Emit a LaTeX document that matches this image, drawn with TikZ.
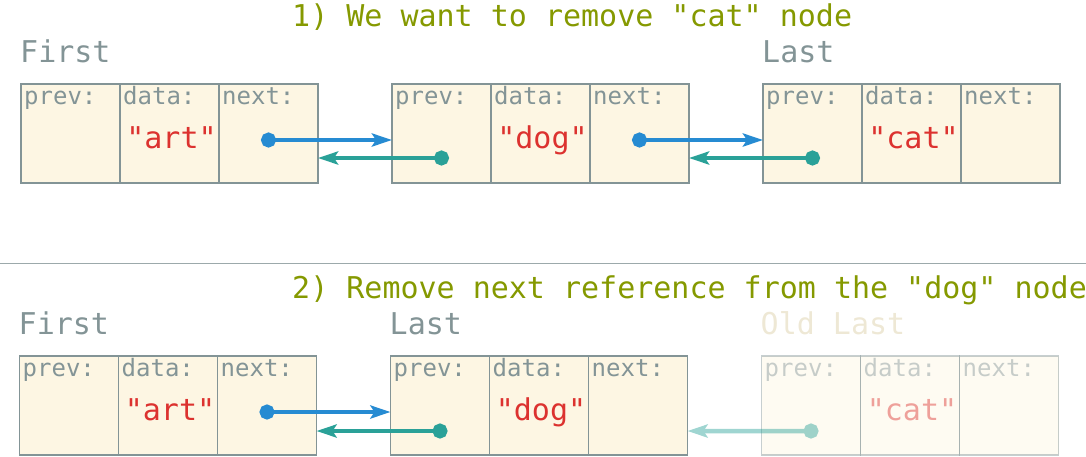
\documentclass[tikz,border=0pt]{standalone}
\usepackage{fontspec}
\setmonofont{DejaVu Sans Mono}
\usetikzlibrary{arrows.meta, positioning}

\definecolor{cellbg}{HTML}{FDF6E3}
\definecolor{edgegray}{HTML}{839496}
\definecolor{headgreen}{HTML}{859900}
\definecolor{valred}{HTML}{DC322F}
\definecolor{refblue}{HTML}{268BD2}
\definecolor{refteal}{HTML}{2AA198}
\definecolor{oldbeige}{HTML}{EEE8D5}

\begin{document}
\begin{tikzpicture}[
    x=1pt, y=1pt,
    cell/.style={rectangle, draw=edgegray, fill=cellbg, line width=1.2pt, minimum width=99pt, minimum height=99pt, inner sep=0pt, outer sep=0pt},
    field/.style={font=\ttfamily\fontsize{24}{28}\selectfont, text=edgegray, anchor=base west, inner sep=0pt},
    value/.style={font=\ttfamily\fontsize{30}{36}\selectfont, text=valred, anchor=base, inner sep=0pt},
    ptr/.style={font=\ttfamily\fontsize{30}{34}\selectfont, text=edgegray, anchor=base west, inner sep=0pt},
    heading/.style={font=\ttfamily\fontsize{30}{36}\selectfont, text=headgreen, anchor=base west, inner sep=0pt},
    nextref/.style={draw=refblue, line width=4.5pt, {Circle[length=15pt]}-{Stealth[length=20pt, width=13pt, inset=4pt]}},
    prevref/.style={draw=refteal, line width=4.5pt, {Circle[length=15pt]}-{Stealth[length=20pt, width=13pt, inset=4pt]}},
    faded/.style={opacity=0.45},
    divider/.style={draw=edgegray!80, line width=1pt}
]
\useasboundingbox (0,0) rectangle (1086,-456);

% 1) before
\node[heading] (step1) at (292,-26) {1) We want to remove "cat" node};
\node[cell] (art1-prev) at (70.5,-133.5) {};
\node[cell, right=0pt of art1-prev] (art1-data) {};
\node[cell, right=0pt of art1-data] (art1-next) {};
\node[cell, right=74pt of art1-next] (dog1-prev) {};
\node[cell, right=0pt of dog1-prev] (dog1-data) {};
\node[cell, right=0pt of dog1-data] (dog1-next) {};
\node[cell, right=74pt of dog1-next] (cat1-prev) {};
\node[cell, right=0pt of cat1-prev] (cat1-data) {};
\node[cell, right=0pt of cat1-data] (cat1-next) {};

\node[field] at ([shift={(3pt,-20pt)}]art1-prev.north west) {prev:};
\node[field] at ([shift={(3pt,-20pt)}]art1-data.north west) {data:};
\node[field] at ([shift={(3pt,-20pt)}]art1-next.north west) {next:};
\node[field] at ([shift={(3pt,-20pt)}]dog1-prev.north west) {prev:};
\node[field] at ([shift={(3pt,-20pt)}]dog1-data.north west) {data:};
\node[field] at ([shift={(3pt,-20pt)}]dog1-next.north west) {next:};
\node[field] at ([shift={(3pt,-20pt)}]cat1-prev.north west) {prev:};
\node[field] at ([shift={(3pt,-20pt)}]cat1-data.north west) {data:};
\node[field] at ([shift={(3pt,-20pt)}]cat1-next.north west) {next:};

\node[value] (art1-val) at ([shift={(2pt,-64pt)}]art1-data.north) {"art"};
\node[value] (dog1-val) at ([shift={(2pt,-64pt)}]dog1-data.north) {"dog"};
\node[value] (cat1-val) at ([shift={(2pt,-64pt)}]cat1-data.north) {"cat"};

\node[ptr] (first1) at ([shift={(-1pt,22pt)}]art1-prev.north west) {First};
\node[ptr] (last1) at ([shift={(-1pt,22pt)}]cat1-prev.north west) {Last};

\draw[nextref] ([shift={(-7.5pt,-6.5pt)}]art1-next.center) -- ([yshift=-6.5pt]dog1-prev.west);
\draw[prevref] ([shift={(7.5pt,-24.5pt)}]dog1-prev.center) -- ([yshift=-24.5pt]art1-next.east);
\draw[nextref] ([shift={(-7.5pt,-6.5pt)}]dog1-next.center) -- ([yshift=-6.5pt]cat1-prev.west);
\draw[prevref] ([shift={(7.5pt,-24.5pt)}]cat1-prev.center) -- ([yshift=-24.5pt]dog1-next.east);

\draw[divider] (0,-263) -- (1086,-263);

% 2) after
\node[heading] (step2) at (292,-298) {2) Remove next reference from the "dog" node};
\node[cell] (art2-prev) at (69,-405.5) {};
\node[cell, right=0pt of art2-prev] (art2-data) {};
\node[cell, right=0pt of art2-data] (art2-next) {};
\node[cell, right=74pt of art2-next] (dog2-prev) {};
\node[cell, right=0pt of dog2-prev] (dog2-data) {};
\node[cell, right=0pt of dog2-data] (dog2-next) {};
\node[cell, faded, right=74pt of dog2-next] (cat2-prev) {};
\node[cell, faded, right=0pt of cat2-prev] (cat2-data) {};
\node[cell, faded, right=0pt of cat2-data] (cat2-next) {};

\node[field] at ([shift={(3pt,-20pt)}]art2-prev.north west) {prev:};
\node[field] at ([shift={(3pt,-20pt)}]art2-data.north west) {data:};
\node[field] at ([shift={(3pt,-20pt)}]art2-next.north west) {next:};
\node[field] at ([shift={(3pt,-20pt)}]dog2-prev.north west) {prev:};
\node[field] at ([shift={(3pt,-20pt)}]dog2-data.north west) {data:};
\node[field] at ([shift={(3pt,-20pt)}]dog2-next.north west) {next:};
\node[field, faded] at ([shift={(3pt,-20pt)}]cat2-prev.north west) {prev:};
\node[field, faded] at ([shift={(3pt,-20pt)}]cat2-data.north west) {data:};
\node[field, faded] at ([shift={(3pt,-20pt)}]cat2-next.north west) {next:};

\node[value] (art2-val) at ([shift={(2pt,-64pt)}]art2-data.north) {"art"};
\node[value] (dog2-val) at ([shift={(2pt,-64pt)}]dog2-data.north) {"dog"};
\node[value, faded] (cat2-val) at ([shift={(2pt,-64pt)}]cat2-data.north) {"cat"};

\node[ptr] (first2) at ([shift={(-1pt,22pt)}]art2-prev.north west) {First};
\node[ptr] (last2) at ([shift={(-1pt,22pt)}]dog2-prev.north west) {Last};
\node[ptr, text=oldbeige] (oldlast) at ([shift={(-1pt,22pt)}]cat2-prev.north west) {Old Last};

\draw[nextref] ([shift={(-7.5pt,-6.5pt)}]art2-next.center) -- ([yshift=-6.5pt]dog2-prev.west);
\draw[prevref] ([shift={(7.5pt,-25.5pt)}]dog2-prev.center) -- ([yshift=-25.5pt]art2-next.east);
\begin{scope}[transparency group, opacity=0.45]
\draw[prevref] ([shift={(7.5pt,-25.5pt)}]cat2-prev.center) -- ([yshift=-25.5pt]dog2-next.east);
\end{scope}
\end{tikzpicture}
\end{document}
